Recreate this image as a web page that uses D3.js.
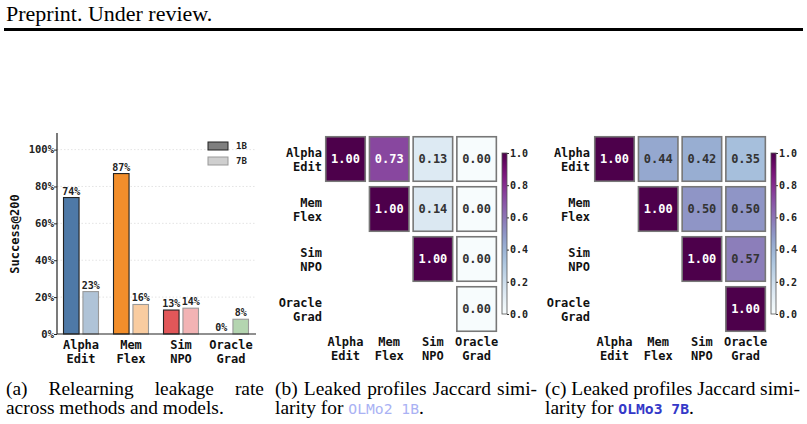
<!DOCTYPE html>
<html>
<head>
<meta charset="utf-8">
<script src="https://cdn.jsdelivr.net/npm/d3@7"></script>
<style>
  body { margin: 0; background: #fff; }
  svg { display: block; }
  .mono { font-family: "DejaVu Sans Mono", monospace; font-weight: bold; }
  .serif { font-family: "Liberation Serif", "DejaVu Serif", serif; }
</style>
</head>
<body>
<script>

// DATA
var methods = ["Alpha\nEdit", "Mem\nFlex", "Sim\nNPO", "Oracle\nGrad"];
var models = ["1B", "7B"];
var success1B = [74, 87, 13, 0];
var success7B = [23, 16, 14, 8];
var methodColors = ["#4e79a7", "#f28e2b", "#e15759", "#59a14f"];
var yTicks = [0, 20, 40, 60, 80, 100];

var jaccard1B = [
    [1.00, 0.73, 0.13, 0.00],
    [null, 1.00, 0.14, 0.00],
    [null, null, 1.00, 0.00],
    [null, null, null, 0.00]
];
var jaccard7B = [
    [1.00, 0.44, 0.42, 0.35],
    [null, 1.00, 0.50, 0.50],
    [null, null, 1.00, 0.57],
    [null, null, null, 1.00]
];
var cbarTicks = [0, 0.2, 0.4, 0.6, 0.8, 1.0];


var width = 807, height = 424;

var svg = d3.select("body").append("svg").attr("width", width).attr("height", height);

//HEADER
svg.append("text").attr("class", "serif")
    .attr("x", 6).attr("y", 21)
    .attr("font-size", 22)
    .text("Preprint. Under review.");

svg.append("rect").attr("x", 4).attr("y", 28).attr("width", 799).attr("height", 3).attr("fill", "#000");


//BAR CHART
var x0 = d3.scaleBand().domain(methods).range([56, 256]).padding(0);
var x1 = d3.scaleBand().domain(models).range([7.5, 42.5]).paddingInner(0.2);
var yScale = d3.scaleLinear().domain([0, 109]).range([334, 133]);

var barGroup = svg.append("g");

// grid
barGroup.selectAll(".grid").data(yTicks.slice(1)).enter().append("line")
    .attr("x1", 57).attr("x2", 256)
    .attr("y1", function(d){return yScale(d);})
    .attr("y2", function(d){return yScale(d);})
    .attr("stroke", "#ddd").attr("stroke-width", 0.8).attr("stroke-dasharray", "1.5,2");

var barData = [];
methods.forEach(function(m, i){
    barData.push({method: m, model: "1B", value: success1B[i], color: methodColors[i]});
    barData.push({method: m, model: "7B", value: success7B[i], color: methodColors[i]});
});

barGroup.selectAll(".bar").data(barData).enter().append("rect")
    .attr("x", function(d){return x0(d.method) + x1(d.model);})
    .attr("y", function(d){return yScale(d.value);})
    .attr("width", x1.bandwidth())
    .attr("height", function(d){return yScale(0) - yScale(d.value);})
    .attr("fill", function(d){return d.model == "1B" ? d.color : d3.interpolateRgb(d.color, "#fff")(0.55);})
    .attr("stroke", function(d){return d.model == "1B" ? "#222" : "#999";})
    .attr("stroke-width", 1.1);

barGroup.selectAll(".val").data(barData).enter().append("text")
    .attr("class", "mono")
    .attr("x", function(d){return x0(d.method) + x1(d.model) + x1.bandwidth() / 2;})
    .attr("y", function(d){return yScale(d.value) - 3;})
    .attr("text-anchor", "middle")
    .attr("font-size", 10)
    .attr("fill", "#222")
    .text(function(d){return d.value + "%";});

// axes
var yAxis = d3.axisLeft(yScale).tickValues(yTicks).tickSize(3).tickFormat(function(d){return d + "%";});
var yAxisG = barGroup.append("g").attr("transform", "translate(57,0)").call(yAxis);
yAxisG.select(".domain").attr("d", "M0," + yScale(109) + "V" + yScale(0)).attr("stroke", "#222").attr("stroke-width", 1.2);
yAxisG.selectAll(".tick line").attr("stroke", "#222");
yAxisG.selectAll(".tick text").attr("class", "mono").attr("font-size", 10.5).attr("fill", "#222").attr("x", -3);

barGroup.append("line").attr("x1", 57).attr("x2", 256).attr("y1", 334).attr("y2", 334)
    .attr("stroke", "#222").attr("stroke-width", 1.2);

barGroup.selectAll(".cat").data(methods).enter().append("text")
    .attr("class", "mono")
    .attr("text-anchor", "middle")
    .attr("font-size", 12)
    .attr("fill", "#111")
    .each(function(d){
        var t = d3.select(this), parts = d.split("\n"), cx = x0(d) + x0.bandwidth() / 2;
        t.append("tspan").attr("x", cx).attr("y", 349).text(parts[0]);
        t.append("tspan").attr("x", cx).attr("y", 363).text(parts[1]);
    });

barGroup.append("text").attr("class", "mono")
    .attr("transform", "translate(19,234) rotate(-90)")
    .attr("text-anchor", "middle")
    .attr("font-size", 12)
    .attr("fill", "#111")
    .text("Success@200");

// legend
var legend = barGroup.append("g");
legend.selectAll("rect").data(models).enter().append("rect")
    .attr("x", 208).attr("y", function(d, i){return 142 + i * 15;})
    .attr("width", 20).attr("height", 8)
    .attr("fill", function(d, i){return i == 0 ? "#7f7f7f" : "#cfcfcf";})
    .attr("stroke", function(d, i){return i == 0 ? "#222" : "#999";})
    .attr("stroke-width", 1);
legend.selectAll("text").data(models).enter().append("text")
    .attr("class", "mono")
    .attr("x", 236).attr("y", function(d, i){return 146 + i * 15;})
    .attr("dy", "0.35em")
    .attr("font-size", 9)
    .attr("fill", "#222")
    .text(function(d){return d;});


//HEATMAPS
var color = d3.scaleSequential(d3.interpolateBuPu).domain([0, 1]);

function drawHeatmap(data, left, labelRight, cbarX) {
    var g = svg.append("g");
    var xs = d3.scaleBand().domain(d3.range(4)).range([left, left + 172.1]).paddingInner(0.062);
    var ys = d3.scaleBand().domain(d3.range(4)).range([136, 332]).paddingInner(0.08);

    var cells = [];
    data.forEach(function(row, i){
        row.forEach(function(v, j){
            if (v !== null) cells.push({r: i, c: j, v: v});
        });
    });

    g.selectAll(".cell").data(cells).enter().append("rect")
        .attr("x", function(d){return xs(d.c) + 0.75;})
        .attr("y", function(d){return ys(d.r) + 0.75;})
        .attr("width", xs.bandwidth() - 1.5)
        .attr("height", ys.bandwidth() - 1.5)
        .attr("fill", function(d){return color(d.v);})
        .attr("stroke", "#777")
        .attr("stroke-width", 1.6);

    g.selectAll(".ctext").data(cells).enter().append("text")
        .attr("class", "mono")
        .attr("x", function(d){return xs(d.c) + xs.bandwidth() / 2;})
        .attr("y", function(d){return ys(d.r) + ys.bandwidth() / 2;})
        .attr("dy", "0.36em")
        .attr("text-anchor", "middle")
        .attr("font-size", 12)
        .attr("fill", function(d){return d.v > 0.65 ? "#fff" : "#333";})
        .text(function(d){return d.v.toFixed(2);});

    // row labels
    g.selectAll(".rlab").data(methods).enter().append("text")
        .attr("class", "mono")
        .attr("text-anchor", "end")
        .attr("font-size", 12)
        .attr("fill", "#111")
        .each(function(d, i){
            var t = d3.select(this), parts = d.split("\n"), cy = ys(i) + ys.bandwidth() / 2;
            t.append("tspan").attr("x", labelRight).attr("y", cy - 2).text(parts[0]);
            t.append("tspan").attr("x", labelRight).attr("y", cy + 12).text(parts[1]);
        });

    // column labels
    g.selectAll(".clab").data(methods).enter().append("text")
        .attr("class", "mono")
        .attr("text-anchor", "middle")
        .attr("font-size", 12)
        .attr("fill", "#111")
        .each(function(d, i){
            var t = d3.select(this), parts = d.split("\n"), cx = xs(i) + xs.bandwidth() / 2;
            t.append("tspan").attr("x", cx).attr("y", 346).text(parts[0]);
            t.append("tspan").attr("x", cx).attr("y", 360).text(parts[1]);
        });

    // colorbar
    var cy = d3.scaleLinear().domain([0, 1]).range([314, 153]);
    var gradId = "grad" + left;
    var grad = svg.append("defs").append("linearGradient").attr("id", gradId)
        .attr("x1", 0).attr("y1", 1).attr("x2", 0).attr("y2", 0);
    d3.range(0, 1.001, 0.05).forEach(function(t){
        grad.append("stop").attr("offset", t).attr("stop-color", color(t));
    });
    g.append("rect").attr("x", cbarX).attr("y", cy(1)).attr("width", 5).attr("height", cy(0) - cy(1))
        .attr("fill", "url(#" + gradId + ")").attr("stroke", "#555").attr("stroke-width", 0.8);

    var cAxis = d3.axisRight(cy).tickValues(cbarTicks).tickSize(2).tickFormat(d3.format(".1f"));
    var cg = g.append("g").attr("transform", "translate(" + (cbarX + 5) + ",0)").call(cAxis);
    cg.select(".domain").remove();
    cg.selectAll(".tick line").attr("stroke", "#333");
    cg.selectAll(".tick text").attr("class", "mono").attr("font-size", 10).attr("fill", "#222").attr("x", 3);
}

drawHeatmap(jaccard1B, 325, 322, 502);
drawHeatmap(jaccard7B, 594, 590, 771);


//CAPTIONS
var capSize = 18.5, capScale = 1.05;

function capGroup(x) {
    return svg.append("g").attr("transform", "translate(" + x + ",0) scale(" + capScale + ",1)");
}

function justifyLine(words, xa, xb, y) {
    var g = capGroup(xa);
    var nodes = words.map(function(w){
        return g.append("text").attr("class", "serif").attr("font-size", capSize).attr("y", y).text(w);
    });
    var widths = nodes.map(function(n){return n.node().getComputedTextLength();});
    var gap = ((xb - xa) / capScale - d3.sum(widths)) / (words.length - 1);
    var x = 0;
    nodes.forEach(function(n, i){
        n.attr("x", x);
        x += widths[i] + gap;
    });
}

justifyLine(["(a)", "Relearning", "leakage", "rate"], 6, 264, 395);
capGroup(6).append("text").attr("class", "serif").attr("font-size", capSize).attr("y", 414)
    .text("across methods and models.");

justifyLine(["(b)", "Leaked", "profiles", "Jaccard", "simi-"], 275, 537, 395);
var capB = capGroup(275).append("text").attr("class", "serif").attr("font-size", capSize).attr("y", 414);
capB.append("tspan").text("larity for ");
capB.append("tspan").attr("font-family", "DejaVu Sans Mono, monospace").attr("font-size", 14).attr("fill", "#aab2f4").text("OLMo2 1B");
capB.append("tspan").text(".");

justifyLine(["(c)", "Leaked", "profiles", "Jaccard", "simi-"], 545, 800, 395);
var capC = capGroup(545).append("text").attr("class", "serif").attr("font-size", capSize).attr("y", 414);
capC.append("tspan").text("larity for ");
capC.append("tspan").attr("font-family", "DejaVu Sans Mono, monospace").attr("font-weight", "bold").attr("font-size", 14).attr("fill", "#3438c8").text("OLMo3 7B");
capC.append("tspan").text(".");

</script>
</body>
</html>
